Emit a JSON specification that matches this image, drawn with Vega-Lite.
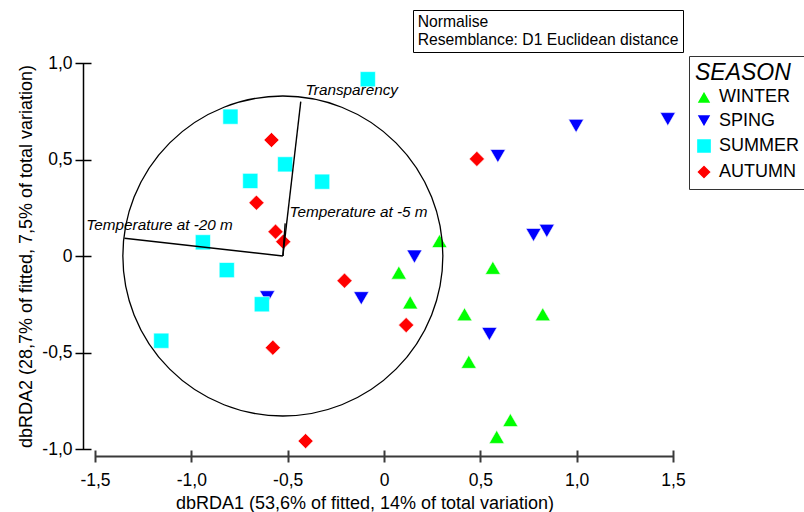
{
  "$schema": "https://vega.github.io/schema/vega-lite/v6.json",
  "width": 578,
  "height": 386,
  "autosize": {"type": "none"},
  "padding": {"left": 95, "top": 63, "right": 131, "bottom": 63},
  "background": "white",
  "config": {"view": {"stroke": null}, "font": "Liberation Sans", "axis": {"grid": false}},
  "datasets": {
    "points": [
      {"season": "WINTER", "x": 0.288, "y": 0.078},
      {"season": "WINTER", "x": 0.077, "y": -0.086},
      {"season": "WINTER", "x": 0.565, "y": -0.061},
      {"season": "WINTER", "x": 0.136, "y": -0.24},
      {"season": "WINTER", "x": 0.418, "y": -0.302},
      {"season": "WINTER", "x": 0.824, "y": -0.302},
      {"season": "WINTER", "x": 0.44, "y": -0.548},
      {"season": "WINTER", "x": 0.656, "y": -0.85},
      {"season": "WINTER", "x": 0.585, "y": -0.937},
      {"season": "SPING", "x": 0.997, "y": 0.674},
      {"season": "SPING", "x": 1.473, "y": 0.709},
      {"season": "SPING", "x": 0.591, "y": 0.518},
      {"season": "SPING", "x": 0.776, "y": 0.109},
      {"season": "SPING", "x": 0.845, "y": 0.13},
      {"season": "SPING", "x": 0.158, "y": -0.003},
      {"season": "SPING", "x": -0.118, "y": -0.219},
      {"season": "SPING", "x": -0.606, "y": -0.214},
      {"season": "SPING", "x": 0.547, "y": -0.404},
      {"season": "SUMMER", "x": -0.084, "y": 0.916},
      {"season": "SUMMER", "x": -0.797, "y": 0.722},
      {"season": "SUMMER", "x": -0.513, "y": 0.475},
      {"season": "SUMMER", "x": -0.694, "y": 0.389},
      {"season": "SUMMER", "x": -0.321, "y": 0.385},
      {"season": "SUMMER", "x": -0.94, "y": 0.071},
      {"season": "SUMMER", "x": -0.816, "y": -0.073},
      {"season": "SUMMER", "x": -0.634, "y": -0.25},
      {"season": "SUMMER", "x": -1.156, "y": -0.439},
      {"season": "AUTUMN", "x": -0.584, "y": 0.601},
      {"season": "AUTUMN", "x": -0.662, "y": 0.276},
      {"season": "AUTUMN", "x": -0.563, "y": 0.126},
      {"season": "AUTUMN", "x": -0.523, "y": 0.074},
      {"season": "AUTUMN", "x": -0.205, "y": -0.128},
      {"season": "AUTUMN", "x": 0.482, "y": 0.503},
      {"season": "AUTUMN", "x": 0.115, "y": -0.358},
      {"season": "AUTUMN", "x": -0.577, "y": -0.475},
      {"season": "AUTUMN", "x": -0.407, "y": -0.959}
    ],
    "circle": [{"cx": -0.525, "cy": 0}],
    "vectors": [
      {"name": "Transparency", "x0": -0.525, "y0": 0, "x1": -0.432, "y1": 0.8, "lx": -0.407, "ly": 0.835},
      {"name": "Temperature at -20 m", "x0": -0.525, "y0": 0, "x1": -1.347, "y1": 0.092, "lx": -1.545, "ly": 0.135},
      {"name": "Temperature at -5 m", "x0": -0.525, "y0": 0, "x1": -0.513, "y1": 0.169, "lx": -0.49, "ly": 0.204}
    ],
    "notes": [
      {"note": "Normalise"},
      {"note": "Resemblance: D1 Euclidean distance"}
    ]
  },
  "layer": [
    {
      "data": {"name": "points"},
      "mark": {"type": "point", "filled": true, "opacity": 1, "stroke": "white", "strokeWidth": 0.6},
      "encoding": {
        "x": {
          "field": "x", "type": "quantitative",
          "scale": {"domain": [-1.5, 1.5], "nice": false, "zero": false},
          "axis": {
            "orient": "bottom", "offset": 7,
            "values": [-1.5, -1, -0.5, 0, 0.5, 1, 1.5],
            "ticks": false, "tickSize": 0,
            "domain": true, "domainColor": "#3a3a3a", "domainWidth": 2,
            "labelFontSize": 17.5, "labelColor": "black", "labelPadding": 15,
            "labelFlush": false, "labelOverlap": false,
            "labelExpr": "datum.value == 0 ? '0' : replace(replace(format(datum.value, '.1f'), '.', ','), '\u2212', '-')",
            "title": "dbRDA1 (53,6% of fitted, 14% of total variation)",
            "titleFontSize": 18, "titleFontWeight": "normal", "titleColor": "black",
            "titlePadding": 6, "titleX": 269.5
          }
        },
        "y": {
          "field": "y", "type": "quantitative",
          "scale": {"domain": [-1, 1], "nice": false, "zero": false},
          "axis": {
            "orient": "left", "offset": 12,
            "values": [-1, -0.5, 0, 0.5, 1],
            "ticks": false, "tickSize": 0,
            "domain": true, "domainColor": "black", "domainWidth": 1.5,
            "labelFontSize": 17.5, "labelColor": "black", "labelPadding": 11,
            "labelFlush": false, "labelOverlap": false,
            "labelExpr": "datum.value == 0 ? '0' : replace(replace(format(datum.value, '.1f'), '.', ','), '\u2212', '-')",
            "title": "dbRDA2 (28,7% of fitted, 7,5% of total variation)",
            "titleFontSize": 18, "titleFontWeight": "normal", "titleColor": "black",
            "titlePadding": 6
          }
        },
        "shape": {
          "field": "season", "type": "nominal",
          "scale": {"domain": ["WINTER", "SPING", "SUMMER", "AUTUMN"], "range": ["triangle-up", "triangle-down", "square", "diamond"]},
          "legend": {
            "orient": "none", "legendX": 594, "legendY": -7,
            "title": "SEASON", "titleFontSize": 23, "titleFontStyle": "italic", "titleFontWeight": "normal",
            "titleColor": "black", "titlePadding": 3,
            "labelFontSize": 18, "labelColor": "black", "labelOffset": 6,
            "rowPadding": 4, "padding": 6, "strokeColor": "#333333",
            "encode": {"legend": {"update": {"strokeWidth": {"value": 2}}}}
          }
        },
        "color": {
          "field": "season", "type": "nominal",
          "scale": {"domain": ["WINTER", "SPING", "SUMMER", "AUTUMN"], "range": ["#00ff00", "#0000ff", "#00ffff", "#ff0000"]}
        },
        "size": {
          "field": "season", "type": "nominal",
          "scale": {"domain": ["WINTER", "SPING", "SUMMER", "AUTUMN"], "range": [230, 230, 150, 180]}
        }
      }
    },
    {
      "data": {"name": "circle"},
      "mark": {"type": "point", "shape": "circle", "filled": false, "stroke": "black", "strokeWidth": 1.3, "size": 102400, "opacity": 1},
      "encoding": {
        "x": {
          "field": "cx", "type": "quantitative",
          "scale": {"domain": [-1.5, 1.5], "nice": false, "zero": false},
          "axis": {
            "orient": "bottom", "offset": 1,
            "values": [-1.5, -1, -0.5, 0, 0.5, 1, 1.5],
            "domain": false, "labels": false, "ticks": true,
            "tickSize": 12, "tickColor": "#3a3a3a", "tickWidth": 2, "title": null
          }
        },
        "y": {
          "field": "cy", "type": "quantitative",
          "scale": {"domain": [-1, 1], "nice": false, "zero": false},
          "axis": {
            "orient": "left", "offset": 4,
            "values": [-1, -0.5, 0, 0.5, 1],
            "domain": false, "labels": false, "ticks": true,
            "tickSize": 16, "tickColor": "black", "tickWidth": 1.5, "title": null
          }
        }
      }
    },
    {
      "data": {"name": "vectors"},
      "mark": {"type": "rule", "color": "black", "strokeWidth": 1.4},
      "encoding": {
        "x": {"field": "x0", "type": "quantitative", "scale": {"domain": [-1.5, 1.5], "nice": false, "zero": false}, "axis": null},
        "y": {"field": "y0", "type": "quantitative", "scale": {"domain": [-1, 1], "nice": false, "zero": false}, "axis": null},
        "x2": {"field": "x1"},
        "y2": {"field": "y1"}
      }
    },
    {
      "data": {"name": "vectors"},
      "mark": {"type": "text", "fontStyle": "italic", "fontSize": 15.3, "align": "left", "baseline": "alphabetic", "color": "black"},
      "encoding": {
        "x": {"field": "lx", "type": "quantitative", "scale": {"domain": [-1.5, 1.5], "nice": false, "zero": false}, "axis": null},
        "y": {"field": "ly", "type": "quantitative", "scale": {"domain": [-1, 1], "nice": false, "zero": false}, "axis": null},
        "text": {"field": "name"}
      }
    },
    {
      "data": {"name": "notes"},
      "mark": {"type": "text", "text": "", "opacity": 0},
      "encoding": {
        "stroke": {
          "field": "note", "type": "nominal",
          "scale": {"range": ["black", "black"]},
          "legend": {
            "orient": "none", "legendX": 318, "legendY": -53,
            "title": null, "labelFontSize": 15.7, "labelColor": "black", "labelOffset": -15,
            "labelLimit": 400, "symbolSize": 0, "symbolOpacity": 0, "symbolStrokeWidth": 0,
            "padding": 4, "rowPadding": 1, "strokeColor": "black",
            "encode": {"legend": {"update": {"strokeWidth": {"value": 1.5}}}}
          }
        }
      }
    }
  ],
  "resolve": {"axis": {"x": "independent", "y": "independent"}}
}
